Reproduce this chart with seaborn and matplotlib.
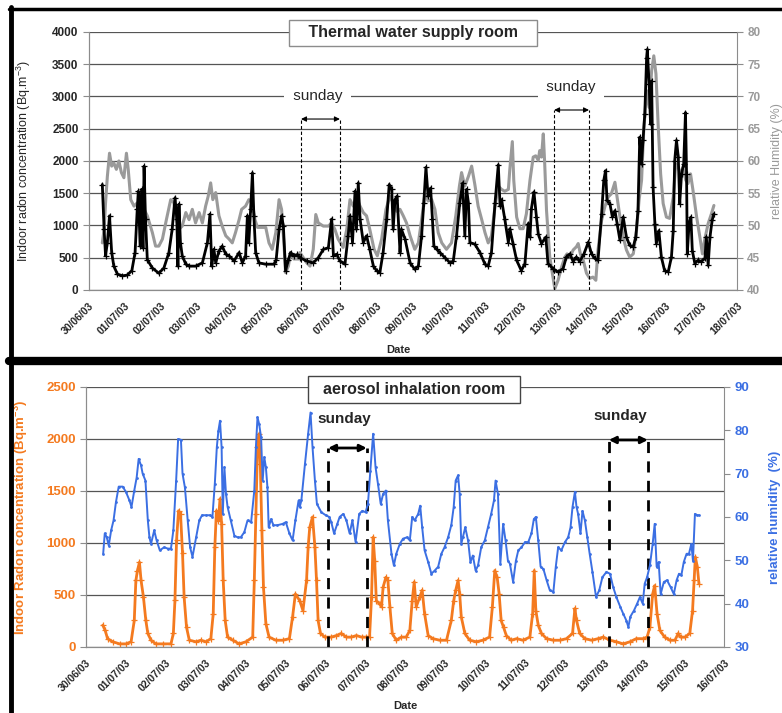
import matplotlib
matplotlib.use("Agg")
import matplotlib.pyplot as plt
import matplotlib.dates as mdates
from matplotlib.lines import Line2D
import seaborn as sns
import pandas as pd
import numpy as np

# ---- data (days since 30/06/03 00:00) ----
top_radon_day = [0.37, 0.42, 0.46, 0.51, 0.57, 0.63, 0.69, 0.79, 0.93, 1.06,
                 1.19, 1.28, 1.34, 1.37, 1.42, 1.46, 1.50, 1.53, 1.57, 1.62,
                 1.76, 1.94, 2.08, 2.22, 2.31, 2.39, 2.44, 2.47, 2.50, 2.54,
                 2.59, 2.69, 2.78, 2.96, 3.15, 3.29, 3.36, 3.41, 3.47, 3.52,
                 3.61, 3.70, 3.80, 3.89, 4.03, 4.17, 4.26, 4.35, 4.40, 4.44,
                 4.49, 4.54, 4.58, 4.63, 4.72, 4.91, 5.14, 5.20, 5.28, 5.35,
                 5.40, 5.46, 5.54, 5.60, 5.69, 5.79,
                 5.86, 6.05, 6.23, 6.37, 6.51, 6.65, 6.74, 6.79, 6.88, 6.97,
                 7.11, 7.20, 7.25, 7.32, 7.39, 7.43, 7.48, 7.53, 7.62, 7.71,
                 7.80, 7.90, 7.99, 8.08, 8.17, 8.27, 8.34, 8.41, 8.45, 8.50,
                 8.56, 8.64, 8.68, 8.78, 8.92, 9.05, 9.15, 9.24, 9.30, 9.36,
                 9.42, 9.49, 9.54, 9.58, 9.66, 9.75, 9.89, 10.03, 10.12, 10.21,
                 10.30, 10.38, 10.44, 10.49, 10.54, 10.58, 10.72, 10.86, 11.00, 11.09,
                 11.18, 11.28, 11.37, 11.42, 11.46, 11.55, 11.65,
                 11.69, 11.78, 11.88, 12.01, 12.11, 12.20, 12.25, 12.29, 12.36, 12.43,
                 12.48, 12.57, 12.69, 12.75, 12.89, 13.03, 13.17, 13.26, 13.36, 13.45,
                 13.54, 13.63, 13.75, 13.87, 13.96, 14.05, 14.14, 14.24, 14.30, 14.35,
                 14.39, 14.47, 14.54, 14.61, 14.67, 14.75, 14.84, 14.93, 15.02, 15.12,
                 15.19, 15.25, 15.30, 15.35, 15.39, 15.44, 15.49, 15.51, 15.56, 15.60,
                 15.63, 15.67, 15.72, 15.76, 15.83, 15.90, 15.99, 16.09, 16.18, 16.23,
                 16.27, 16.32, 16.37, 16.41, 16.46, 16.52, 16.57, 16.60, 16.62, 16.67,
                 16.72, 16.76, 16.83, 16.92, 17.01, 17.11, 17.15, 17.20, 17.25, 17.31,
                 17.36]
top_radon = [1635, 940, 530, 735, 1150, 580, 370, 245, 220, 230,
             300, 580, 1250, 1530, 680, 1560, 650, 1920, 1100, 470,
             340, 260, 340, 580, 940, 1430, 1100, 370, 1330, 735,
             530, 400, 370, 370, 420, 735, 1175, 370, 630, 420,
             605, 680, 555, 530, 450, 580, 420, 530, 1150, 735,
             1250, 1815, 1150, 580, 420, 400, 400, 470, 940, 1150,
             990, 300, 470, 580, 530, 550,
             500, 450, 420, 500, 630, 655, 1100, 530, 555, 450,
             400, 840, 1150, 735, 1530, 940, 1660, 1100, 735, 840,
             630, 370, 300, 270, 580, 1100, 1635, 1560, 940, 1400,
             1455, 580, 940, 790, 420, 320, 370, 840, 1350, 1900,
             1455, 1580, 1100, 680, 630, 580, 500, 420, 450, 840,
             1350, 1660, 840, 1560, 1350, 735, 710, 580, 400, 370,
             580, 1350, 1940, 1300, 1400, 1100, 735,
             950, 720, 460, 300, 410, 1030, 820, 1260, 1520, 1130,
             870, 720, 820, 410, 330, 280, 330, 510, 560, 440,
             510, 440, 560, 740, 560, 490, 460, 1180, 1700, 1850,
             1390, 1340, 1130, 1230, 1030, 770, 1130, 820, 690, 670,
             820, 1230, 2370, 1950, 2320, 2730, 3600, 3730, 3190, 2570,
             3240, 1590, 1030, 720, 920, 510, 300, 280, 510, 920,
             2000, 2320, 2060, 1340, 1800, 1950, 2750, 1800, 560, 1030,
             1130, 610, 410, 460, 440, 490, 820, 380, 820, 1080,
             1180]

top_hum_day = [0.37, 0.42, 0.46, 0.51, 0.57, 0.63, 0.69, 0.76, 0.83, 0.90,
               0.97, 1.04, 1.09, 1.16, 1.25, 1.34, 1.44, 1.53, 1.62, 1.76,
               1.85, 1.94, 2.04, 2.15, 2.27, 2.36, 2.43, 2.50, 2.59, 2.69,
               2.78, 2.87, 2.96, 3.06, 3.15, 3.24, 3.31, 3.38, 3.44, 3.52,
               3.61, 3.70, 3.80, 3.89, 3.98, 4.07, 4.17, 4.24, 4.35, 4.44,
               4.54, 4.61, 4.68, 4.91, 5.00, 5.09, 5.19, 5.28, 5.35, 5.42,
               5.46, 5.54, 5.60, 5.69, 5.83,
               5.86, 6.05, 6.14, 6.23, 6.30, 6.37, 6.51, 6.65, 6.74, 6.83,
               6.92, 7.06, 7.16, 7.25, 7.34, 7.43, 7.53, 7.62, 7.71, 7.80,
               7.92, 8.01, 8.13, 8.25, 8.36, 8.45, 8.55, 8.64, 8.73, 8.82,
               8.92, 9.05, 9.15, 9.24, 9.33, 9.42, 9.52, 9.61, 9.70, 9.80,
               9.93, 10.07, 10.19, 10.29, 10.35, 10.44, 10.54, 10.63, 10.72, 10.81,
               10.91, 11.00, 11.09, 11.18, 11.28, 11.37, 11.46, 11.55, 11.65,
               11.69, 11.76, 11.80, 11.88, 11.97, 12.06, 12.15, 12.25, 12.34, 12.41,
               12.48, 12.52, 12.57, 12.62, 12.66, 12.71, 12.80, 12.89, 12.94, 13.03,
               13.13, 13.22, 13.28, 13.36, 13.45, 13.54, 13.59, 13.65, 13.73, 13.82,
               13.91, 14.00, 14.08, 14.14, 14.24, 14.33, 14.42, 14.51, 14.61, 14.67,
               14.75, 14.84, 14.93, 15.02, 15.12, 15.21, 15.28, 15.35, 15.41, 15.49,
               15.56, 15.63, 15.69, 15.75, 15.81, 15.88, 15.95, 16.04, 16.13, 16.23,
               16.30, 16.37, 16.43, 16.50, 16.58, 16.64, 16.71, 16.78, 16.88, 16.97,
               17.04, 17.10, 17.20, 17.29, 17.36]
top_hum = [47.3, 49.4, 53.5, 57.6, 61.2, 59.2, 59.7, 58.7, 60.0, 58.2,
           57.4, 61.2, 58.7, 54.0, 53.0, 53.5, 52.5, 52.5, 51.5, 48.9,
           46.8, 46.8, 47.9, 50.9, 54.0, 53.5, 50.9, 49.4, 49.9, 52.0,
           50.9, 52.5, 50.4, 52.0, 50.4, 53.0, 54.5, 56.6, 54.0, 55.1,
           51.5, 49.9, 48.4, 47.9, 47.3, 48.9, 50.9, 52.5, 53.0, 54.0,
           53.5, 50.9, 49.7, 49.7, 47.3, 46.3, 48.9, 54.0, 52.5, 46.8,
           42.7, 43.7, 45.8, 44.8, 44.8,
           45.8, 44.2, 43.7, 46.3, 51.7, 50.4, 49.9, 49.9, 50.4, 49.4,
           47.9, 46.6, 49.4, 54.0, 53.0, 54.3, 53.0, 52.0, 51.5, 49.4,
           46.3, 45.3, 47.9, 52.5, 54.5, 53.5, 52.2, 52.5, 51.5, 50.4,
           48.4, 46.3, 47.3, 50.9, 54.8, 53.8, 54.0, 52.5, 48.9, 47.3,
           46.3, 47.3, 51.5, 56.1, 58.2, 56.1, 57.6, 59.2, 56.3, 53.0,
           50.9, 48.9, 47.3, 48.4, 53.0, 56.1, 55.6, 55.3, 55.6,
           58.7, 63.0, 57.0, 51.3, 49.5, 49.5, 51.8, 57.0, 60.6, 60.8,
           60.1, 61.6, 60.6, 64.2, 59.5, 52.3, 45.1, 42.0, 40.2, 41.5,
           43.6, 45.1, 45.6, 45.1, 46.2, 46.7, 47.2, 45.6, 44.6, 42.6,
           41.8, 42.0, 41.5, 46.2, 50.8, 52.9, 54.4, 54.9, 56.7, 54.4,
           51.3, 48.2, 46.2, 45.1, 45.6, 49.2, 53.9, 57.0, 64.7, 70.9,
           68.3, 74.0, 76.3, 73.5, 65.7, 58.0, 53.4, 51.3, 51.1, 54.4,
           59.5, 59.0, 58.0, 59.0, 57.0, 56.5, 58.0, 55.4, 51.3, 48.2,
           45.6, 47.7, 50.3, 51.8, 53.1]

bot_radon_day = [0.42, 0.48, 0.54, 0.67, 0.84, 1.00, 1.13, 1.21, 1.25, 1.29,
                 1.34, 1.38, 1.44, 1.50, 1.55, 1.63, 1.75, 1.92, 2.13, 2.19,
                 2.23, 2.27, 2.32, 2.37, 2.42, 2.46, 2.52, 2.59, 2.76, 2.88,
                 3.01, 3.13, 3.19, 3.23, 3.27, 3.32, 3.36, 3.40, 3.44, 3.49,
                 3.55, 3.68, 3.84, 4.01, 4.18, 4.22, 4.26, 4.30, 4.34, 4.37,
                 4.41, 4.45, 4.51, 4.59, 4.76, 4.93, 5.10, 5.18, 5.25,
                 5.36, 5.44, 5.53, 5.57, 5.61, 5.68, 5.74, 5.78, 5.82, 5.88,
                 5.99, 6.15, 6.28, 6.40, 6.53, 6.65, 6.78, 6.91, 7.03, 7.11,
                 7.16, 7.20, 7.24, 7.28, 7.36, 7.41, 7.45, 7.52, 7.57, 7.62,
                 7.68, 7.78, 7.91, 8.03, 8.12, 8.18, 8.23, 8.28, 8.37, 8.43,
                 8.49, 8.58, 8.70, 8.87, 9.04, 9.16, 9.22, 9.27, 9.33, 9.37,
                 9.41, 9.50, 9.62, 9.79, 9.95, 10.12, 10.19, 10.25, 10.31, 10.36,
                 10.41, 10.47, 10.54, 10.66,
                 10.80, 10.96, 11.13, 11.20, 11.24, 11.28, 11.34, 11.42, 11.55, 11.72,
                 11.88, 12.05, 12.20, 12.26, 12.30, 12.38, 12.51, 12.68, 12.84, 12.97,
                 13.14, 13.30, 13.47, 13.64, 13.80, 13.97, 14.07, 14.14, 14.21, 14.26,
                 14.32, 14.39, 14.51, 14.64, 14.77, 14.85, 14.91, 15.02, 15.14, 15.21,
                 15.25, 15.28, 15.33, 15.37]
bot_radon = [210, 160, 80, 50, 30, 30, 50, 255, 640, 735,
             815, 640, 480, 255, 130, 65, 30, 30, 30, 130,
             450, 1025, 1310, 1280, 900, 480, 190, 65, 50, 65,
             50, 80, 320, 960, 1310, 1215, 1425, 1185, 640, 255,
             95, 65, 30, 50, 95, 640, 1280, 1920, 2050, 1760,
             1120, 575, 225, 95, 65, 65, 80, 290, 510,
             445, 350, 640, 960, 1150, 1250, 960, 640, 255, 130,
             95, 95, 110, 130, 95, 95, 110, 95, 95, 95,
             480, 1055, 830, 445, 415, 385, 575, 670, 640, 385,
             130, 65, 95, 95, 160, 445, 625, 385, 480, 545,
             320, 110, 80, 65, 65, 255, 445, 545, 640, 510,
             290, 130, 65, 50, 65, 95, 385, 735, 670, 510,
             255, 190, 110, 65,
             80, 65, 95, 320, 735, 350, 210, 130, 80, 65,
             65, 80, 130, 370, 255, 130, 80, 65, 80, 95,
             65, 50, 30, 50, 80, 80, 95, 190, 510, 590,
             320, 160, 95, 65, 65, 130, 95, 95, 130, 350,
             640, 865, 770, 610]

bot_hum_day = [0.43, 0.47, 0.52, 0.57, 0.63, 0.69, 0.75, 0.82, 0.92, 1.00,
               1.09, 1.14, 1.21, 1.27, 1.32, 1.38, 1.42, 1.49, 1.55, 1.59,
               1.63, 1.71, 1.77, 1.85, 1.96, 2.05, 2.13, 2.19, 2.26, 2.31,
               2.38, 2.42, 2.48, 2.55, 2.61, 2.67, 2.76, 2.84, 2.91, 3.01,
               3.11, 3.17, 3.23, 3.28, 3.32, 3.36, 3.40, 3.43, 3.47, 3.51,
               3.55, 3.63, 3.72, 3.80, 3.88, 3.97, 4.05, 4.14, 4.22, 4.26,
               4.30, 4.34, 4.39, 4.43, 4.47, 4.51, 4.55, 4.58, 4.64, 4.70,
               4.80, 4.93, 5.01, 5.10, 5.18, 5.25, 5.33,
               5.36, 5.40, 5.49, 5.57, 5.63, 5.68, 5.74, 5.79, 5.90, 6.01,
               6.10, 6.15, 6.22, 6.30, 6.36, 6.45, 6.53, 6.61, 6.68, 6.76,
               6.85, 6.93, 7.01, 7.07, 7.13, 7.20, 7.26, 7.32, 7.39, 7.45,
               7.52, 7.57, 7.66, 7.72, 7.78, 7.87, 7.95, 8.05, 8.12, 8.18,
               8.24, 8.33, 8.38, 8.43, 8.49, 8.58, 8.66, 8.74, 8.83, 8.91,
               8.99, 9.08, 9.16, 9.22, 9.27, 9.33, 9.37, 9.41, 9.45, 9.51,
               9.58, 9.64, 9.70, 9.77, 9.83, 9.91, 10.00, 10.08, 10.16, 10.23,
               10.27, 10.33, 10.39, 10.46, 10.52, 10.58,
               10.63, 10.71, 10.78, 10.84, 10.92, 11.01, 11.09, 11.17, 11.23, 11.28,
               11.34, 11.40, 11.47, 11.55, 11.63, 11.72, 11.78, 11.84, 11.92, 12.01,
               12.09, 12.15, 12.20, 12.26, 12.30, 12.34, 12.40, 12.45, 12.51, 12.57,
               12.63, 12.70, 12.79, 12.87, 12.95, 13.05, 13.14, 13.22, 13.30, 13.40,
               13.47, 13.55, 13.60, 13.65, 13.74, 13.82, 13.89, 13.96, 14.01, 14.07,
               14.14, 14.21, 14.26, 14.31, 14.36, 14.41, 14.49, 14.57, 14.66, 14.74,
               14.81, 14.87, 14.93, 14.99, 15.06, 15.12, 15.18, 15.22, 15.27, 15.31,
               15.37]
bot_hum = [51.5, 56.2, 55.3, 53.4, 56.9, 59.2, 63.4, 67.0, 67.0, 65.8,
           63.8, 62.3, 66.1, 69.1, 73.4, 71.9, 70.0, 68.4, 59.2, 55.3,
           53.8, 56.9, 54.6, 52.3, 53.0, 52.7, 52.7, 56.9, 68.4, 78.0,
           77.8, 70.0, 66.8, 59.2, 53.0, 50.8, 55.3, 59.2, 60.4, 60.4,
           60.4, 60.0, 67.7, 76.1, 79.9, 82.2, 76.1, 60.7, 71.5, 65.3,
           62.3, 59.2, 55.7, 55.3, 55.3, 56.5, 59.2, 58.8, 66.1, 76.1,
           83.0, 81.5, 78.4, 68.4, 73.8, 71.5, 66.8, 57.6, 59.5, 58.1,
           58.1, 58.4, 58.8, 56.2, 54.6, 59.2, 63.8,
           62.3, 63.8, 72.2, 79.2, 84.1, 76.1, 68.4, 63.0, 61.1, 60.4,
           60.0, 58.8, 56.2, 58.4, 60.0, 60.7, 59.2, 56.2, 59.2, 54.2,
           60.7, 61.4, 61.1, 63.0, 70.7, 79.2, 71.5, 67.7, 63.0, 65.3,
           66.1, 59.2, 51.5, 48.8, 51.5, 53.8, 55.0, 55.3, 54.6, 60.0,
           59.2, 60.7, 62.6, 57.6, 52.3, 49.6, 46.9, 47.6, 48.5, 51.5,
           53.0, 55.3, 58.1, 62.3, 68.4, 69.6, 65.3, 53.8, 55.3, 57.6,
           54.6, 49.6, 51.1, 47.6, 48.8, 53.0, 54.6, 57.6, 60.7, 63.8,
           68.4, 65.3, 49.2, 58.4, 54.6, 49.9,
           49.2, 45.0, 49.9, 52.3, 53.0, 54.2, 54.2, 56.2, 59.5, 60.0,
           54.6, 48.5, 48.0, 45.4, 43.1, 42.7, 48.5, 53.0, 52.3, 54.2,
           55.3, 57.6, 62.3, 65.8, 62.3, 60.7, 56.2, 61.4, 59.2, 55.3,
           51.5, 47.3, 41.5, 43.1, 46.1, 47.3, 46.9, 43.8, 41.5, 39.2,
           37.7, 36.1, 34.6, 37.0, 38.4, 40.0, 41.5, 40.0, 44.6, 46.1,
           48.8, 53.8, 58.4, 48.5, 49.6, 42.2, 45.0, 45.4, 43.8, 42.2,
           45.4, 46.9, 46.6, 49.6, 51.5, 51.5, 53.8, 49.9, 60.7, 60.4,
           60.4]

# sunday markers: (start day, end day, arrow level), label (day, level)
top_sundays = [(5.89, 6.97, 2650), (12.92, 13.89, 2790)]
top_sunday_labels = [(6.36, 3007), (13.39, 3146)]
bot_sundays = [(6.07, 7.04, 1913), (13.11, 14.09, 1990)]
bot_sunday_labels = [(6.47, 2190), (13.41, 2225)]

START = pd.Timestamp("2003-06-30")


def to_time(days):
    return START + pd.to_timedelta(np.asarray(days, dtype=float), unit="D")


sns.set_style("white")
plt.rcParams['font.family'] = ['Liberation Sans', 'DejaVu Sans']
plt.rcParams['mathtext.default'] = 'regular'

ORANGE = "#F47A1F"
BLUE = "#3B6FE3"
GRAY = "#9A9A9A"
GRID = "#555555"
AXC = "#8C8C8C"

fig = plt.figure(figsize=(7.82, 7.13), dpi=100)


def style_dates(ax, ndays):
    ax.set_xlim(START, START + pd.Timedelta(days=ndays))
    ax.xaxis.set_major_locator(mdates.DayLocator())
    ax.xaxis.set_major_formatter(mdates.DateFormatter("%d/%m/%y"))
    for lab in ax.get_xticklabels():
        lab.set_rotation(45)
        lab.set_ha("right")
        lab.set_rotation_mode("anchor")
        lab.set_fontsize(7.5)
        lab.set_fontweight("bold")


def draw_sundays(ax, spans, labels, lw, dash, bold, textbg):
    for d0, d1, lev in spans:
        t0, t1 = to_time([d0, d1])
        ax.vlines([t0, t1], 0, lev, colors="black", linestyles=dash, lw=lw, zorder=6)
        ax.annotate("", xy=(t1, lev), xytext=(t0, lev),
                    arrowprops=dict(arrowstyle="<|-|>", lw=lw, color="black",
                                    mutation_scale=6 + 2 * lw, shrinkA=0, shrinkB=0),
                    zorder=6)
    for d, lev in labels:
        bbox = dict(boxstyle="square,pad=0.3", fc="white", ec="none") if textbg else None
        ax.text(to_time([d])[0], lev, " sunday " if textbg else "sunday",
                ha="center", va="center", fontsize=11,
                fontweight="bold" if bold else "normal", bbox=bbox, zorder=7)


# ---------------- top panel: thermal water supply room ----------------
ax1 = fig.add_axes([0.1138, 0.5933, 0.8286, 0.3619])
ax1r = ax1.twinx()
ax1.set_zorder(2)
ax1r.set_zorder(1)
ax1.patch.set_visible(False)
ax1r.patch.set_visible(True)

sns.lineplot(x=to_time(top_hum_day), y=top_hum, ax=ax1r, color=GRAY,
             lw=2.2, estimator=None, sort=False)
sns.lineplot(x=to_time(top_radon_day), y=top_radon, ax=ax1, color="black",
             lw=2, marker="+", markersize=4, markeredgewidth=0.9,
             markeredgecolor="black", estimator=None, sort=False)

ax1.set_ylim(0, 4000)
ax1.set_yticks(range(0, 4001, 500))
ax1r.set_ylim(40, 80)
ax1r.set_yticks(range(40, 81, 5))
ax1r.yaxis.grid(True, color=GRID, lw=0.9)
ax1r.set_axisbelow(True)
style_dates(ax1, 18)

for a in (ax1, ax1r):
    a.spines["top"].set_visible(False)
    for s in ("left", "bottom", "right"):
        a.spines[s].set_color(AXC)
ax1.spines["right"].set_visible(False)
ax1.tick_params(axis="both", direction="out", length=4, color=AXC, width=0.8)
ax1.tick_params(axis="y", labelsize=8.5)
ax1r.tick_params(axis="y", direction="out", length=4, color=AXC, width=0.8,
                 labelsize=8.5, labelcolor=GRAY)
for lab in ax1.get_yticklabels() + ax1r.get_yticklabels():
    lab.set_fontweight("bold")

ax1.set_ylabel("Indoor radon concentration (Bq.m$^{-3}$)", fontsize=9)
ax1.yaxis.set_label_coords(-0.087, 0.5)
ax1r.set_ylabel("relative Humidity (%)", fontsize=9, color=GRAY)
ax1r.yaxis.set_label_coords(1.052, 0.5)
ax1.set_xlabel("Date", fontsize=8, fontweight="bold")
ax1.xaxis.set_label_coords(0.478, -0.213)

ax1.text(0.5, 0.997, "   Thermal water supply room   ", transform=ax1.transAxes,
         ha="center", va="center", fontsize=11.5, fontweight="bold", zorder=8,
         bbox=dict(boxstyle="square,pad=0.35", fc="white", ec=AXC, lw=1))
draw_sundays(ax1, top_sundays, top_sunday_labels, 0.8, (0, (3, 2)), False, True)

# ---------------- bottom panel: aerosol inhalation room ----------------
ax2 = fig.add_axes([0.110, 0.0926, 0.8159, 0.3647])
ax2r = ax2.twinx()

sns.lineplot(x=to_time(bot_radon_day), y=bot_radon, ax=ax2, color=ORANGE,
             lw=2, marker="+", markersize=4, markeredgewidth=0.9,
             markeredgecolor=ORANGE, estimator=None, sort=False)
sns.lineplot(x=to_time(bot_hum_day), y=bot_hum, ax=ax2r, color=BLUE,
             lw=1.4, marker="o", markersize=2, markeredgewidth=0,
             markerfacecolor=BLUE, estimator=None, sort=False)

ax2.set_ylim(0, 2500)
ax2.set_yticks(range(0, 2501, 500))
ax2r.set_ylim(30, 90)
ax2r.set_yticks(range(30, 91, 10))
ax2.yaxis.grid(True, color=GRID, lw=0.9)
ax2.set_axisbelow(True)
style_dates(ax2, 16)

for a in (ax2, ax2r):
    a.spines["top"].set_visible(False)
    for s in ("left", "bottom", "right"):
        a.spines[s].set_color(AXC)
ax2.spines["right"].set_visible(False)
ax2.tick_params(axis="both", direction="out", length=4, color=AXC, width=0.8)
ax2.tick_params(axis="y", labelsize=9.5, labelcolor=ORANGE)
ax2r.tick_params(axis="y", direction="out", length=4, color=AXC, width=0.8,
                 labelsize=9.5, labelcolor=BLUE)
for lab in ax2.get_yticklabels() + ax2r.get_yticklabels():
    lab.set_fontweight("bold")

ax2.set_ylabel("Indoor Radon concentration (Bq.m$^{-3}$)", fontsize=9.5,
               fontweight="bold", color=ORANGE)
ax2.yaxis.set_label_coords(-0.088, 0.5)
ax2r.set_ylabel("relative humidity  (%)", fontsize=9.5, fontweight="bold", color=BLUE)
ax2r.yaxis.set_label_coords(1.071, 0.5)
ax2.set_xlabel("Date", fontsize=8, fontweight="bold")
ax2.xaxis.set_label_coords(0.5, -0.208)

ax2r.text(0.514, 0.99, "  aerosol inhalation room  ", transform=ax2.transAxes,
          ha="center", va="center", fontsize=11.5, fontweight="bold", zorder=8,
          bbox=dict(boxstyle="square,pad=0.35", fc="white", ec="#444444", lw=1))
draw_sundays(ax2, bot_sundays, bot_sunday_labels, 2, (0, (4, 3)), True, False)

# ---------------- page frame ----------------
for xs, ys, w in [([0.014, 0.014], [0.0, 0.99], 3.5),
                  ([0.012, 1.0], [0.9875, 0.9875], 2.5),
                  ([0.012, 1.0], [0.4937, 0.4937], 6)]:
    fig.add_artist(Line2D(xs, ys, transform=fig.transFigure, color="black", lw=w))

fig.savefig("out.png", dpi=100)
